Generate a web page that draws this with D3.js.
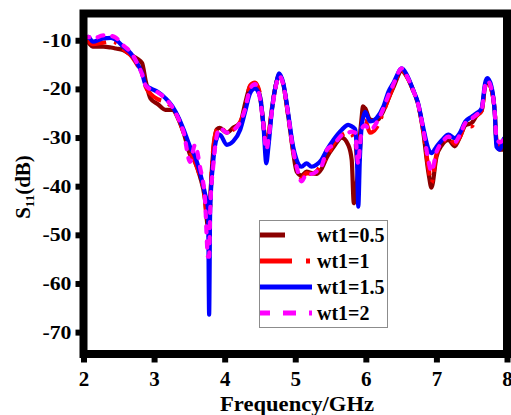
<!DOCTYPE html>
<html>
<head>
<meta charset="utf-8">
<script src="https://cdn.jsdelivr.net/npm/d3@7"></script>
<style>
  body { margin: 0; background: #fff; }
  svg { display: block; }
  text { font-family: "Liberation Serif", "Times New Roman", serif; font-weight: bold; fill: #000; }
</style>
</head>
<body>
<svg id="chart" width="511" height="415"></svg>
<script>
// frequency grid (GHz), shared by all curves
const freq = [
  2.00, 2.07, 2.13, 2.28, 2.39, 2.46, 2.56, 2.67, 2.76, 2.83,
  2.88, 2.95, 3.05, 3.16, 3.26, 3.35, 3.42, 3.51, 3.58, 3.65,
  3.72, 3.765, 3.78, 3.795, 3.84, 3.89, 3.93, 4.03, 4.12, 4.22,
  4.29, 4.36, 4.43, 4.50, 4.55, 4.59, 4.62, 4.67, 4.74, 4.77,
  4.83, 4.90, 4.97, 5.02, 5.09, 5.16, 5.23, 5.30, 5.37, 5.45,
  5.54, 5.66, 5.75, 5.80, 5.83, 5.85, 5.875, 5.893, 5.915, 5.94,
  5.96, 5.99, 6.06, 6.15, 6.25, 6.32, 6.39, 6.51, 6.58, 6.67,
  6.74, 6.81, 6.89, 6.93, 7.00, 7.08, 7.17, 7.26, 7.33, 7.41,
  7.50, 7.57, 7.64, 7.69, 7.72, 7.78, 7.83, 7.85, 7.90, 7.96,
  8.00
]

// S11 (dB) for each wt1
const s11_05 = [
  -9.8, -10.5, -11.3, -11.3, -11.5, -11.7, -12.0, -13.0, -13.8, -14.7,
  -18.3, -22.0, -23.1, -24.3, -24.3, -26.4, -29.1, -33.5, -35.0, -38.0,
  -42.5, -48.5, -48.5, -43.0, -32.5, -28.3, -28.0, -29.0, -28.0, -27.0,
  -23.0, -19.5, -18.8, -21.5, -27.5, -32.0, -30.0, -24.0, -18.3, -17.1,
  -19.0, -25.5, -33.0, -37.0, -37.8, -37.0, -37.3, -37.5, -36.5, -34.0,
  -32.0, -30.0, -31.5, -34.6, -43.5, -42.0, -39.0, -36.0, -30.0, -26.0,
  -23.6, -24.0, -26.3, -26.5, -24.5, -22.0, -19.7, -16.3, -17.5, -20.3,
  -23.1, -28.5, -37.5, -40.3, -34.0, -31.5, -30.5, -31.8, -30.0, -27.5,
  -27.0, -25.5, -24.5, -19.5, -18.5, -20.1, -25.5, -31.0, -32.5, -32.5,
  -32.5
]
const s11_1 = [
  -9.8, -10.3, -10.8, -10.5, -10.3, -10.5, -11.8, -13.1, -15.0, -16.8,
  -19.5, -21.0, -22.1, -22.7, -23.9, -26.2, -29.0, -33.0, -35.0, -38.0,
  -42.5, -50.0, -50.5, -44.0, -32.0, -28.3, -27.8, -28.9, -28.4, -26.8,
  -24.1, -19.3, -18.7, -21.0, -27.5, -32.0, -30.0, -24.0, -18.3, -17.1,
  -19.0, -25.5, -32.5, -36.0, -38.3, -37.3, -37.5, -37.0, -35.5, -34.0,
  -31.3, -29.5, -29.0, -29.3, -30.0, -30.5, -35.0, -37.5, -33.0, -27.5,
  -26.5, -26.5, -29.0, -28.0, -24.7, -22.0, -19.5, -16.1, -17.4, -20.3,
  -23.1, -28.3, -36.5, -39.3, -33.5, -31.3, -30.0, -31.3, -30.0, -27.5,
  -27.7, -25.5, -24.5, -19.5, -18.5, -20.1, -25.5, -30.5, -31.5, -31.5,
  -32.0
]
const s11_15 = [
  -10.0, -9.3, -10.3, -9.6, -9.5, -9.9, -11.3, -12.7, -14.7, -16.8,
  -19.2, -19.9, -20.6, -21.9, -23.6, -26.0, -28.4, -31.9, -33.9, -37.2,
  -41.4, -44.8, -66.4, -44.8, -34.6, -30.1, -29.4, -31.5, -30.8, -28.4,
  -24.7, -20.9, -19.9, -21.6, -27.7, -35.3, -31.9, -24.3, -18.2, -16.8,
  -18.8, -25.0, -31.9, -34.6, -36.0, -35.3, -36.0, -35.6, -34.6, -32.5,
  -30.5, -28.4, -27.4, -27.7, -28.0, -28.4, -34.6, -44.2, -34.6, -27.8,
  -26.0, -24.7, -26.7, -26.0, -23.6, -20.6, -18.8, -15.8, -17.1, -20.2,
  -22.9, -27.7, -32.5, -33.2, -31.9, -30.5, -29.4, -30.1, -29.1, -26.7,
  -25.7, -25.0, -24.0, -18.8, -17.8, -19.5, -25.7, -31.9, -32.5, -30.1,
  -30.5
]
const s11_2 = [
  -9.5, -9.3, -9.7, -9.0, -9.1, -9.5, -11.0, -12.5, -14.7, -17.0,
  -19.3, -20.1, -20.7, -22.0, -23.8, -26.3, -29.0, -35.0, -31.5, -36.0,
  -42.5, -54.5, -54.5, -45.0, -35.5, -29.5, -28.0, -29.0, -28.5, -26.8,
  -24.1, -20.0, -19.0, -22.0, -27.5, -32.5, -30.5, -24.5, -18.5, -17.3,
  -19.1, -25.3, -32.5, -36.0, -39.0, -37.5, -37.5, -37.0, -36.0, -32.5,
  -31.5, -29.5, -29.0, -28.8, -28.9, -29.0, -33.5, -35.5, -32.0, -28.5,
  -27.8, -27.5, -28.5, -27.0, -24.0, -21.3, -19.1, -15.8, -17.3, -20.3,
  -23.1, -28.0, -35.0, -37.0, -33.0, -31.0, -29.8, -31.0, -29.5, -27.0,
  -26.1, -25.3, -24.3, -19.3, -18.3, -20.0, -25.5, -30.0, -31.0, -30.5,
  -31.0
]

const names = ['wt1=0.5', 'wt1=1', 'wt1=1.5', 'wt1=2']
const xTicks = [2, 3, 4, 5, 6, 7, 8]
const yTicks = [-70, -60, -50, -40, -30, -20, -10]

const series = [
  { name: names[0], values: s11_05, color: '#8b0000', dash: null, cap: 'round', legDash: '25,100' },
  { name: names[1], values: s11_1, color: '#ff0000', dash: '24,8,3,8', cap: 'butt', legDash: '32,14,4,100' },
  { name: names[2], values: s11_15, color: '#0000ff', dash: null, cap: 'round', legDash: null },
  { name: names[3], values: s11_2, color: '#ff00ff', dash: '6,9', cap: 'round', legDash: '10,13,13,13,3,100' }
]

const svg = d3.select('#chart')
const mLeft = 83.5, mRight = 507, mTop = 13.5, mBottom = 354

const x = d3.scaleLinear().domain([2, 8]).range([mLeft, mRight])
const y = d3.scaleLinear().domain([-74.5, -4.5]).range([mBottom, mTop])

svg.append('clipPath').attr('id', 'clip')
  .append('rect')
  .attr('x', mLeft).attr('y', mTop)
  .attr('width', mRight - mLeft).attr('height', mBottom - mTop)

const line = d3.line()
  .x(d => x(d[0]))
  .y(d => y(d[1]))
  .curve(d3.curveMonotoneX)

const plot = svg.append('g').attr('clip-path', 'url(#clip)')
series.forEach(s => {
  plot.append('path')
    .datum(freq.map((f, i) => [f, s.values[i]]))
    .attr('d', line)
    .attr('fill', 'none')
    .attr('stroke', s.color)
    .attr('stroke-width', 4.2)
    .attr('stroke-linejoin', 'round')
    .attr('stroke-linecap', s.cap)
    .attr('stroke-dasharray', s.dash)
})

// axes (plain hyphen for negatives, like the original)
const yAxis = svg.append('g')
  .attr('transform', `translate(${mLeft},0)`)
  .call(d3.axisLeft(y).tickValues(yTicks).tickFormat(d => String(d)).tickSize(8).tickSizeOuter(0).tickPadding(4))
yAxis.select('.domain').remove()
yAxis.selectAll('line').attr('stroke', '#000').attr('stroke-width', 6)
yAxis.selectAll('text')
  .attr('font-size', 19)
  .attr('textLength', 29)
  .attr('lengthAdjust', 'spacingAndGlyphs')
  .style('font-family', '"Liberation Serif", serif')
  .style('font-weight', 'bold')

const xAxis = svg.append('g')
  .attr('transform', `translate(0,${mBottom})`)
  .call(d3.axisBottom(x).tickValues(xTicks).tickFormat(d3.format('d')).tickSize(8.5).tickSizeOuter(0).tickPadding(9))
xAxis.select('.domain').remove()
xAxis.selectAll('line').attr('stroke', '#000').attr('stroke-width', 6)
xAxis.selectAll('text')
  .attr('font-size', 21)
  .style('font-family', '"Liberation Serif", serif')
  .style('font-weight', 'bold')

// frame
svg.append('rect')
  .attr('x', mLeft).attr('y', mTop)
  .attr('width', mRight - mLeft).attr('height', mBottom - mTop)
  .attr('fill', 'none')
  .attr('stroke', '#000')
  .attr('stroke-width', 8)

// axis titles
svg.append('text')
  .attr('x', 297).attr('y', 411)
  .attr('text-anchor', 'middle')
  .attr('font-size', 20)
  .attr('textLength', 154)
  .attr('lengthAdjust', 'spacingAndGlyphs')
  .text('Frequency/GHz')

const yt = svg.append('text')
  .attr('transform', 'translate(30,187) rotate(-90)')
  .attr('text-anchor', 'middle')
  .attr('font-size', 21)
yt.append('tspan').text('S')
yt.append('tspan').attr('font-size', 13).attr('dy', 4).text('11')
yt.append('tspan').attr('dy', -4).text('(dB)')

// legend
const leg = svg.append('g')
leg.append('rect')
  .attr('x', 259.5).attr('y', 220.5)
  .attr('width', 128).attr('height', 107)
  .attr('fill', '#fff')
  .attr('stroke', '#8c8c8c')
  .attr('stroke-width', 1)

series.forEach((s, i) => {
  const ly = 235 + i * 26
  leg.append('line')
    .attr('x1', 260).attr('x2', 312)
    .attr('y1', ly).attr('y2', ly)
    .attr('stroke', s.color)
    .attr('stroke-width', 5)
    .attr('stroke-dasharray', s.legDash)
  leg.append('text')
    .attr('x', 317).attr('y', ly + 7)
    .attr('font-size', 20)
    .text(s.name)
})
</script>
</body>
</html>
